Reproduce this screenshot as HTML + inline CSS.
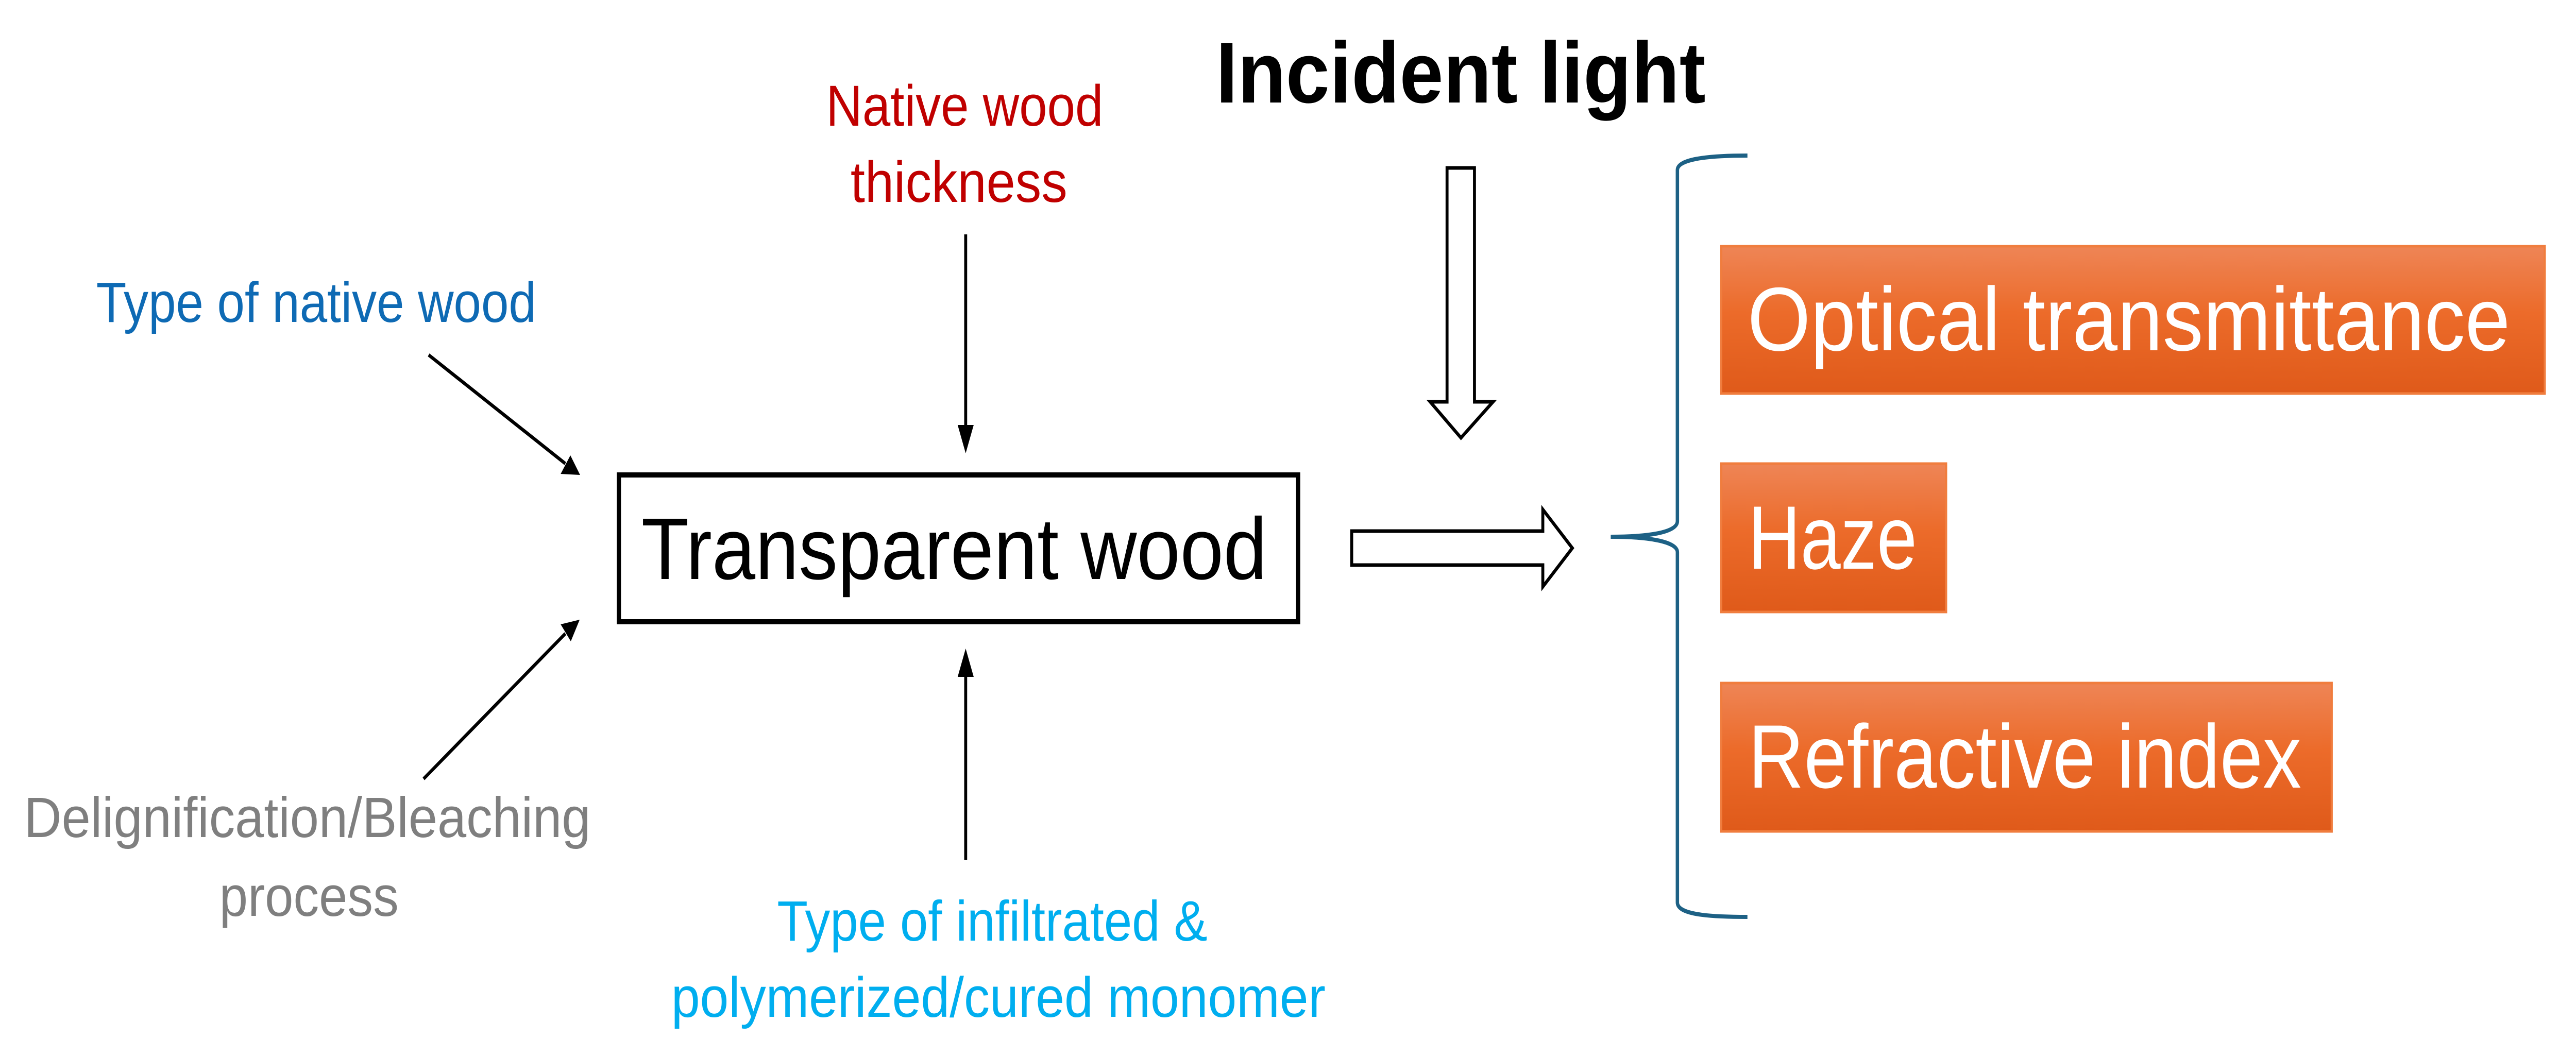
<!DOCTYPE html>
<html><head><meta charset="utf-8"><style>
html,body{margin:0;padding:0;background:#fff;overflow:hidden;width:100vw;height:100vh;}
svg{display:block;width:100vw;height:100vh;}
text{font-family:"Liberation Sans",sans-serif;}
</style></head><body>
<svg viewBox="0 0 6106 2050" preserveAspectRatio="none" xmlns="http://www.w3.org/2000/svg">
<defs>
<linearGradient id="og" x1="0" y1="0" x2="0" y2="1">
<stop offset="0" stop-color="#ee8556"/><stop offset="0.45" stop-color="#ec6b2a"/><stop offset="1" stop-color="#df5a1a"/>
</linearGradient>
</defs>
<rect width="6106" height="2050" fill="#fff"/>

<text x="2882" y="199" font-size="168" font-weight="bold" fill="#000" textLength="1161" lengthAdjust="spacingAndGlyphs">Incident light</text>
<text x="1958" y="244" font-size="112" fill="#c00000" textLength="657" lengthAdjust="spacingAndGlyphs">Native wood</text>
<text x="2016" y="392" font-size="112" fill="#c00000" textLength="514" lengthAdjust="spacingAndGlyphs">thickness</text>
<text x="228" y="625" font-size="110" fill="#0e6ab4" textLength="1043" lengthAdjust="spacingAndGlyphs">Type of native wood</text>
<text x="57" y="1625" font-size="110" fill="#7f7f7f" textLength="1343" lengthAdjust="spacingAndGlyphs">Delignification/Bleaching</text>
<text x="520" y="1778" font-size="110" fill="#7f7f7f" textLength="425" lengthAdjust="spacingAndGlyphs">process</text>
<text x="1842" y="1826" font-size="110" fill="#00aeef" textLength="1020" lengthAdjust="spacingAndGlyphs">Type of infiltrated &amp;</text>
<text x="1591" y="1974" font-size="110" fill="#00aeef" textLength="1551" lengthAdjust="spacingAndGlyphs">polymerized/cured monomer</text>

<rect x="1467" y="922" width="1610" height="285" fill="#fff" stroke="#000" stroke-width="10"/>
<text x="1520" y="1124" font-size="170" fill="#000" textLength="1483" lengthAdjust="spacingAndGlyphs">Transparent wood</text>

<g stroke="#000" stroke-width="7" fill="none">
<line x1="1016" y1="689" x2="1340" y2="900"/>
<line x1="1004" y1="1512" x2="1340" y2="1230"/>
<line x1="2289" y1="455" x2="2289" y2="830"/>
<line x1="2289" y1="1669" x2="2289" y2="1305"/>
</g>
<g fill="#000">
<polygon points="1375,922 1329,920 1352,884"/>
<polygon points="1374,1203 1353,1245 1329,1212"/>
<polygon points="2289,880 2270,825 2308,825"/>
<polygon points="2289,1259 2270,1314 2308,1314"/>
</g>

<polygon points="3430,326 3495,326 3495,780 3539,780 3463,850 3390,780 3430,780" fill="#fff" stroke="#000" stroke-width="7"/>
<polygon points="3204,1031 3657,1031 3657,989 3727,1064 3657,1139 3657,1097 3204,1097" fill="#fff" stroke="#000" stroke-width="7"/>

<path d="M4142,302 C4040,302 3976,310 3976,330 L3976,1012 C3976,1035 3900,1042 3818,1042 C3900,1042 3976,1050 3976,1072 L3976,1752 C3976,1774 4040,1780 4142,1780" fill="none" stroke="#1d6185" stroke-width="8"/>

<rect x="4080" y="478" width="1952" height="286" fill="url(#og)" stroke="#f07d3e" stroke-width="5"/>
<rect x="4080" y="900" width="533" height="288" fill="url(#og)" stroke="#f07d3e" stroke-width="5"/>
<rect x="4080" y="1326" width="1447" height="288" fill="url(#og)" stroke="#f07d3e" stroke-width="5"/>
<text x="4142" y="680" font-size="175" fill="#fff" textLength="1808" lengthAdjust="spacingAndGlyphs">Optical transmittance</text>
<text x="4144" y="1104" font-size="175" fill="#fff" textLength="400" lengthAdjust="spacingAndGlyphs">Haze</text>
<text x="4144" y="1529" font-size="175" fill="#fff" textLength="1311" lengthAdjust="spacingAndGlyphs">Refractive index</text>
</svg>
</body></html>
